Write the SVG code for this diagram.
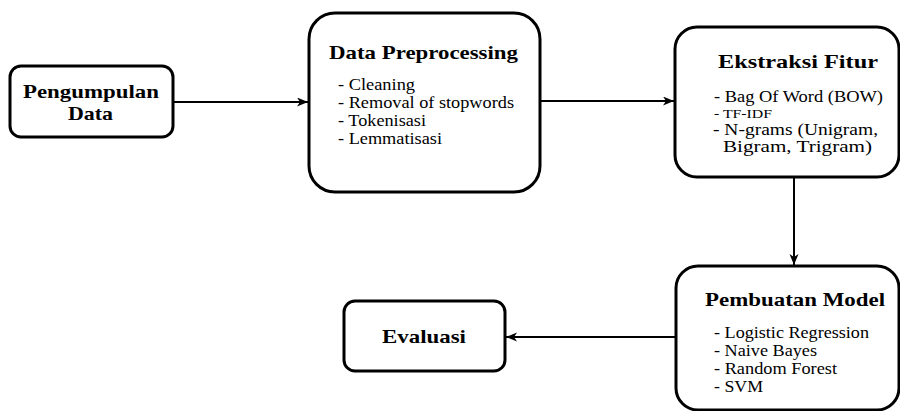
<svg xmlns="http://www.w3.org/2000/svg" width="900" height="411" viewBox="0 0 900 411">
  <style>
    .box { fill: #ffffff; stroke: #000000; stroke-width: 3; }
    .edge { fill: none; stroke: #000000; stroke-width: 2; }
    .title { font-family: "Liberation Serif", "Times New Roman", serif; font-weight: bold; font-size: 19px; fill: #000000; }
    .item { font-family: "Liberation Serif", "Times New Roman", serif; font-size: 16px; fill: #000000; }
    .small { font-family: "Liberation Serif", "Times New Roman", serif; font-size: 13px; fill: #000000; }
  </style>
  <defs>
    <marker id="arrow" markerUnits="userSpaceOnUse" markerWidth="12" markerHeight="10" refX="11" refY="4.5" orient="auto">
      <path d="M0,0 L11,4.5 L0,9 L3,4.5 z" fill="#000000"/>
    </marker>
  </defs>

  <!-- connectors -->
  <g id="connectors">
    <line class="edge" x1="173" y1="102" x2="308" y2="102" marker-end="url(#arrow)"/>
    <line class="edge" x1="540" y1="101" x2="674" y2="101" marker-end="url(#arrow)"/>
    <line class="edge" x1="794" y1="177" x2="794" y2="265" marker-end="url(#arrow)"/>
    <line class="edge" x1="676" y1="337" x2="506" y2="337" marker-end="url(#arrow)"/>
  </g>

  <g id="pengumpulan-data">
    <rect class="box" x="10" y="66" width="163" height="71" rx="11" ry="11"/>
    <text class="title" x="23" y="98" textLength="136" lengthAdjust="spacingAndGlyphs">Pengumpulan</text>
    <text class="title" x="68" y="120" textLength="45" lengthAdjust="spacingAndGlyphs">Data</text>
  </g>

  <g id="data-preprocessing">
    <rect class="box" x="309" y="13" width="231" height="179" rx="26" ry="26"/>
    <text class="title" x="329" y="59" textLength="189" lengthAdjust="spacingAndGlyphs">Data Preprocessing</text>
    <text class="item" x="338" y="90" textLength="77" lengthAdjust="spacingAndGlyphs">- Cleaning</text>
    <text class="item" x="338" y="108" textLength="176" lengthAdjust="spacingAndGlyphs">- Removal of stopwords</text>
    <text class="item" x="338" y="126" textLength="88" lengthAdjust="spacingAndGlyphs">- Tokenisasi</text>
    <text class="item" x="338" y="144" textLength="104" lengthAdjust="spacingAndGlyphs">- Lemmatisasi</text>
  </g>

  <g id="ekstraksi-fitur">
    <rect class="box" x="675" y="27" width="224" height="150" rx="22" ry="22"/>
    <text class="title" x="718" y="68" textLength="160" lengthAdjust="spacingAndGlyphs">Ekstraksi Fitur</text>
    <text class="item" x="714" y="102" textLength="169" lengthAdjust="spacingAndGlyphs">- Bag Of Word (BOW)</text>
    <text class="small" x="714" y="118" textLength="58" lengthAdjust="spacingAndGlyphs">- TF-IDF</text>
    <text class="item" x="713" y="135" textLength="165" lengthAdjust="spacingAndGlyphs">- N-grams (Unigram,</text>
    <text class="item" x="723" y="152" textLength="149" lengthAdjust="spacingAndGlyphs">Bigram, Trigram)</text>
  </g>

  <g id="pembuatan-model">
    <rect class="box" x="676" y="266" width="223" height="144" rx="22" ry="22"/>
    <text class="title" x="705" y="306" textLength="180" lengthAdjust="spacingAndGlyphs">Pembuatan Model</text>
    <text class="item" x="714" y="338" textLength="155" lengthAdjust="spacingAndGlyphs">- Logistic Regression</text>
    <text class="item" x="714" y="356" textLength="103" lengthAdjust="spacingAndGlyphs">- Naive Bayes</text>
    <text class="item" x="714" y="374" textLength="123" lengthAdjust="spacingAndGlyphs">- Random Forest</text>
    <text class="item" x="714" y="392" textLength="49" lengthAdjust="spacingAndGlyphs">- SVM</text>
  </g>

  <g id="evaluasi">
    <rect class="box" x="344" y="301" width="161" height="70" rx="11" ry="11"/>
    <text class="title" x="382" y="343" textLength="84" lengthAdjust="spacingAndGlyphs">Evaluasi</text>
  </g>
</svg>
